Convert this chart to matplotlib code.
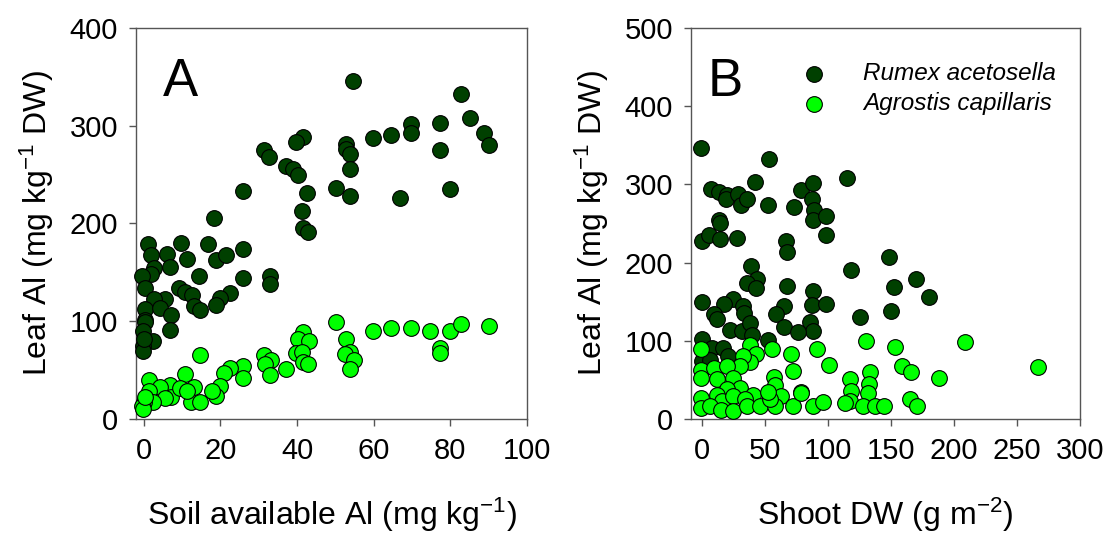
import numpy as np
import matplotlib
matplotlib.use("Agg")
import matplotlib.pyplot as plt

plt.rcParams['font.family'] = ['Liberation Sans', 'DejaVu Sans']
plt.rcParams['mathtext.fontset'] = 'custom'
plt.rcParams['mathtext.rm'] = 'Liberation Sans'
plt.rcParams['mathtext.it'] = 'Liberation Sans:italic'

DARK = '#004000'
LIGHT = '#00ff00'

# Panel A: soil available Al vs leaf Al
rumex_soil = [54.6, 82.8, 85.1, 88.9, 90.2, 77.3, 77.3, 69.7, 69.7, 64.6, 59.8, 52.8, 52.8, 53.7,
              53.7, 53.7, 50.2, 66.9, 79.8, 41.5, 39.8, 31.3, 32.8, 37.0, 38.9, 40.3, 42.7, 41.2,
              41.5, 42.9, 25.8, 18.3, 1.2, 1.8, 6.0, 9.7, 11.4, 16.8, 18.8, 21.5, 25.8, 6.8,
              2.6, 1.9, -0.4, 14.3, 25.8, 32.9, 32.9, 0.4, 9.1, 10.9, 12.6, 13.0, 14.8, 22.6,
              20.0, 18.8, 5.5, 2.6, 0.4, 4.2, 7.0, 0.4, 0.4, -0.2, 6.8, 2.4, -0.2, -0.2, 0.0]
rumex_leaf_a = [346, 332, 308, 293, 280, 303, 275, 302, 293, 291, 287, 281, 276, 271,
                256, 228, 236, 226, 235, 288, 283, 275, 268, 259, 256, 250, 231, 213,
                195, 191, 233, 206, 179, 168, 169, 180, 164, 179, 163, 168, 174, 155,
                154, 148, 146, 146, 144, 146, 138, 134, 134, 130, 127, 116, 111, 129,
                124, 117, 123, 123, 113, 114, 106, 101, 99, 90, 91, 80, 75, 70, 82]

agrostis_soil = [50.2, 59.7, 64.6, 69.8, 74.8, 79.8, 82.8, 90.2, 77.3, 77.3, 52.9, 53.8, 52.6,
                 54.8, 53.7, 41.5, 40.3, 43.2, 39.8, 41.2, 41.6, 42.9, 37.2, 31.3, 33.2, 31.7,
                 32.9, 25.8, 25.8, 22.6, 20.9, 19.8, 18.8, 17.8, 14.8, 10.9, 13.0, 12.4, 14.6,
                 6.8, 7.0, 9.4, 11.3, 1.3, 4.3, 1.3, 5.6, 2.4, 0.0, -0.4, -0.2, 0.4]
agrostis_leaf_a = [99, 90, 93, 93, 90, 90, 97, 95, 73, 68, 82, 69, 66,
                   60, 51, 89, 82, 80, 68, 69, 58, 56, 51, 65, 60, 56,
                   45, 54, 42, 52, 47, 34, 24, 29, 65, 46, 33, 17, 17,
                   35, 22, 32, 29, 40, 33, 29, 21, 17, 17, 13, 10, 22]

# Panel B: shoot DW vs leaf Al
rumex_dw = [-1.1, 52.6, 42.0, 114.9, 6.6, 13.2, 19.9, 18.8, 28.5, 30.4, 35.1, 52.3, 78.7, 88.0,
            87.4, 88.5, 88.0, 98.5, 98.0, 72.9, 13.5, 14.0, -0.3, 5.3, 13.7, 27.2, 66.3, 67.1,
            148.4, 118.1, 169.8, 152.4, 179.9, 150.0, 125.2, 38.3, 43.6, 35.1, 43.0, 67.4, 88.0,
            87.4, 98.0, 85.8, 88.0, 65.2, 58.4, 64.5, 76.1, -0.3, 24.6, 17.2, 32.5, 33.0, 9.2,
            11.4, 21.9, 31.7, 37.8, 52.3, -0.3, 7.4, 16.6, 20.6, -0.3, 6.1, 39.1]
rumex_leaf_b = [346, 332, 303, 308, 294, 290, 286, 281, 288, 274, 281, 274, 293, 302,
                281, 267, 255, 259, 235, 271, 255, 250, 228, 235, 230, 232, 227, 213,
                207, 191, 179, 169, 156, 138, 130, 195, 179, 174, 167, 170, 164,
                146, 147, 124, 112, 145, 134, 117, 111, 149, 154, 147, 145, 135, 134,
                128, 114, 112, 123, 101, 102, 91, 91, 80, 74, 76, 108]

agrostis_dw = [267.0, 208.7, 130.2, 153.2, 91.4, 55.2, 70.3, 100.4, 158.5, 165.9, 187.8, 132.9,
               132.3, 131.5, 117.5, 118.1, 117.0, 164.6, 170.4, 72.1, 78.7, 57.0, 57.8, 62.3,
               -1.1, -1.1, -1.1, -1.1, -1.1, 37.8, 43.0, 37.8, 32.5, 29.9, 9.2, 19.3, 24.6,
               11.4, 29.6, 19.3, 11.4, 15.3, 24.6, 40.4, 33.8, 6.1, 14.5, 24.6, 35.1, 45.7,
               57.6, 72.1, 88.0, 95.9, 78.4, 113.0, 127.6, 136.8, 144.7, 53.6, 52.3]
agrostis_leaf_b = [66, 98, 100, 92, 90, 89, 83, 69, 68, 60, 52, 60,
                   45, 33, 51, 36, 23, 26, 16, 61, 34, 54, 43, 29,
                   90, 63, 53, 27, 14, 95, 83, 73, 80, 68, 65, 68, 53,
                   51, 40, 38, 31, 23, 29, 31, 25, 16, 12, 10, 16, 16,
                   16, 16, 17, 22, 33, 21, 16, 16, 17, 25, 34]

a_xticks = [0, 20, 40, 60, 80, 100]
a_yticks = [0, 100, 200, 300, 400]
b_xticks = [0, 50, 100, 150, 200, 250, 300]
b_yticks = [0, 100, 200, 300, 400, 500]

fig = plt.figure(figsize=(11.07, 5.33), dpi=100)
ax_a = fig.add_axes([0.1229, 0.2139, 0.3532, 0.7336])
ax_b = fig.add_axes([0.6242, 0.2139, 0.3514, 0.7336])

mk = dict(s=128, edgecolors='black', linewidths=0.8, zorder=3, clip_on=False)

ax_a.scatter(rumex_soil, rumex_leaf_a, color=DARK, **mk)
ax_a.scatter(agrostis_soil, agrostis_leaf_a, color=LIGHT, **mk)
ax_b.scatter(rumex_dw, rumex_leaf_b, color=DARK, label='Rumex acetosella', **mk)
ax_b.scatter(agrostis_dw, agrostis_leaf_b, color=LIGHT, label='Agrostis capillaris', **mk)

ax_a.set_xlim(-2, 100)
ax_a.set_ylim(0, 400)
ax_a.set_xticks(a_xticks)
ax_a.set_yticks(a_yticks)
ax_b.set_xlim(-9, 300)
ax_b.set_ylim(0, 500)
ax_b.set_xticks(b_xticks)
ax_b.set_yticks(b_yticks)

ylab = 'Leaf Al (mg kg$^{-1}$ DW)'
ax_a.set_xlabel('Soil available Al (mg kg$^{-1}$)', fontsize=23, labelpad=22)
ax_a.set_ylabel(ylab, fontsize=23, labelpad=10)
ax_b.set_xlabel('Shoot DW (g m$^{-2}$)', fontsize=23, labelpad=22)
ax_b.set_ylabel(ylab, fontsize=23, labelpad=10)

for ax in (ax_a, ax_b):
    ax.tick_params(direction='out', length=5, width=1, labelsize=21, pad=8,
                   color='#555555')
    for side in ax.spines:
        ax.spines[side].set_color('#555555')
        ax.spines[side].set_linewidth(1.0)

ax_a.text(0.069, 0.826, 'A', transform=ax_a.transAxes, fontsize=38)
ax_b.text(0.044, 0.826, 'B', transform=ax_b.transAxes, fontsize=38)

leg = ax_b.legend(loc='upper right', bbox_to_anchor=(0.975, 0.95), frameon=False,
                  prop={'style': 'italic', 'size': 17.5}, handletextpad=1.0,
                  labelspacing=0.3, borderaxespad=0.2, scatterpoints=1)

fig.savefig('out.png', dpi=100)
